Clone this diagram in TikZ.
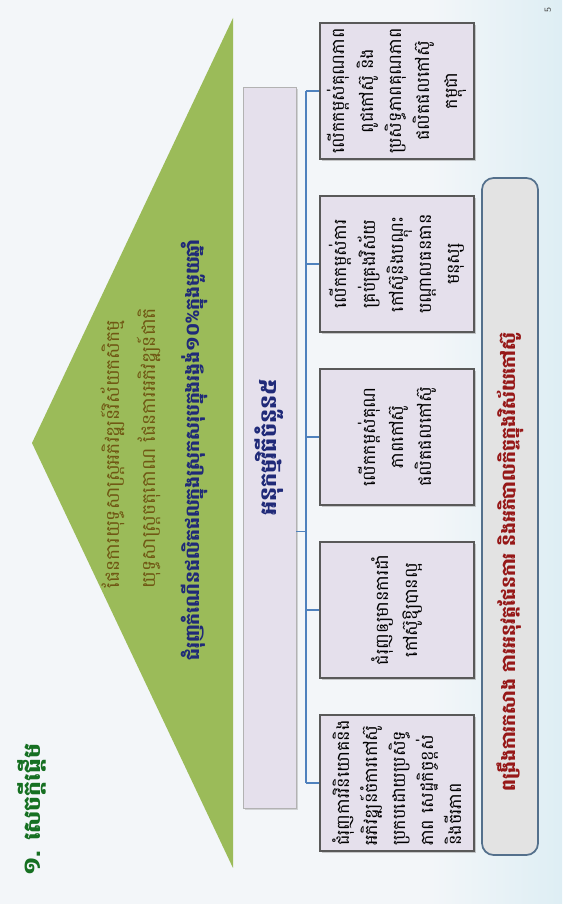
\documentclass[tikz,border=0pt]{standalone}
\usepackage{fontspec}
\newfontfamily\khmer[Script=Khmer]{Battambang}
\usetikzlibrary{calc,shadows}
\definecolor{slidebg}{RGB}{243,246,249}
\definecolor{slideblue}{RGB}{222,238,244}
\definecolor{leafgreen}{RGB}{155,187,89}
\definecolor{olivetext}{RGB}{112,88,20}
\definecolor{navytext}{RGB}{32,42,120}
\definecolor{lilac}{RGB}{229,224,236}
\definecolor{busblue}{RGB}{79,129,189}
\definecolor{barblue}{RGB}{84,112,140}
\definecolor{titlegreen}{RGB}{22,112,34}
\definecolor{rubyred}{RGB}{150,24,24}
\tikzset{
  treetext/.style={rotate=90,text=olivetext,font=\khmer\fontsize{16}{18}\selectfont},
  goal/.style={rotate=90,draw=gray!70!black,line width=1pt,fill=lilac,
    drop shadow={shadow xshift=.5mm,shadow yshift=-.5mm,opacity=.4},
    minimum width=4.08cm,minimum height=4.62cm,inner sep=1pt,
    font=\khmer\fontsize{15}{24}\selectfont},
  bus/.style={draw=busblue,line width=1.2pt}
}
\begin{document}
\begin{tikzpicture}[x=0.03cm,y=0.03cm]
\useasboundingbox (0,0) rectangle (562,904);
\fill[slidebg] (0,0) rectangle (562,904);
\shade[left color=slidebg,right color=slideblue] (430,0) rectangle (562,904);
\fill[leafgreen] (233,886) -- (233,36) -- (32,461) -- cycle;
\node[rotate=90,text=titlegreen,font=\khmer\bfseries\fontsize{20}{22}\selectfont] (title) at (32,94) {១. សេចក្តីផ្តើម};
\node[rotate=90,text=gray!60!black,font=\sffamily\footnotesize] (page) at (548,894) {5};
\node[treetext] (plan) at (113,450) {ផែនការយុទ្ធសាស្ត្រអភិវឌ្ឍន៍វិស័យកសិកម្ម};
\node[treetext] (strat) at (149,456) {យុទ្ធសាស្ត្រចតុកោណ ផែនការអភិវឌ្ឍន៍ជាតិ};
\node[rotate=90,text=navytext,font=\khmer\bfseries\fontsize{16}{18}\selectfont] (target) at (194,454) {ជំរុញកំណើនផលិតផលក្នុងស្រុកសរុបក្នុងរង្វង់១០\%ក្នុងមួយឆ្នាំ};
\node[rotate=90,draw=gray!60,line width=.8pt,fill=lilac,drop shadow={shadow xshift=.5mm,shadow yshift=-.5mm,opacity=.3},
  minimum width=21.63cm,minimum height=1.59cm,text=navytext,font=\khmer\bfseries\fontsize{19}{22}\selectfont] (sub) at (269.5,456.5) {អនុកម្មវិធីចំនួន៥};
\foreach \y/\al/\txt [count=\i] in {121/left/{ជំរុញការវិនិយោគនិង\\អភិវឌ្ឍន៍ចំការកៅស៊ូ\\ប្រកបដោយប្រសិទ្ធ\\ភាព សេដ្ឋកិច្ចខ្ពស់\\និងចីរភាព},
  294/center/{ជំរុញឲ្យមានការដាំ\\កៅស៊ូឱ្យបានល្អ},
  467/center/{លើកកម្ពស់គុណ\\ភាពកៅស៊ូ\\ផលិតផលកៅស៊ូ},
  640/center/{លើកកម្ពស់ការ\\គ្រប់គ្រងវិស័យ\\កៅស៊ូនិងបណ្តុះ\\បណ្តាលធនធាន\\មនុស្ស},
  813/center/{លើកកម្ពស់គុណភាព\\ពូជកៅស៊ូ និង\\ប្រសិទ្ធភាពគុណភាព\\ផលិតផលកៅស៊ូ\\កម្ពុជា}}
  \node[goal,align=\al] (b\i) at (397,\y) {\txt};
\coordinate (bus) at (306,0);
\foreach \i in {1,...,5} \draw[bus] (b\i.north) -- (b\i.north -| bus);
\draw[bus] (b1.north -| bus) -- (b5.north -| bus);
\coordinate (subtap) at ($(sub.south west)!0.384!(sub.south east)$);
\draw[bus] (subtap) -- (subtap -| bus);
\node[rotate=90,draw=barblue,line width=1.5pt,fill=gray!22,rounded corners=10pt,
  minimum width=20.31cm,minimum height=1.68cm] (bar) at (510,387.5) {};
\node[rotate=90,text=rubyred,font=\khmer\bfseries\fontsize{16}{18}\selectfont] (bartext) at (510,342) {ពង្រឹងការកសាង ការអនុវត្តផែនការ និងអភិបាលកិច្ចក្នុងវិស័យកៅស៊ូ};
\end{tikzpicture}
\end{document}
